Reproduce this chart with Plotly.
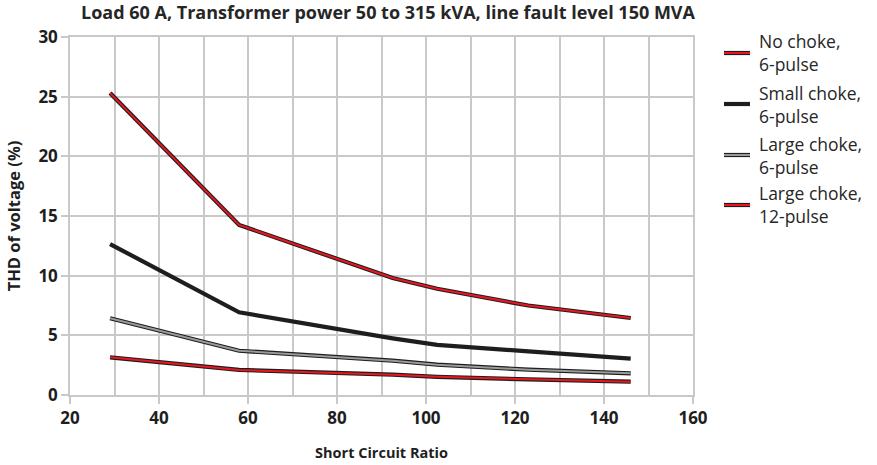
import plotly.graph_objects as go

# ---- data ----
scr = [29, 58, 92.5, 102.5, 123, 146]
no_choke_6p = [25.3, 14.25, 9.8, 8.9, 7.5, 6.45]
small_choke_6p = [12.65, 6.93, 4.75, 4.2, 3.66, 3.05]
large_choke_6p = [6.43, 3.71, 2.88, 2.54, 2.12, 1.82]
large_choke_12p = [3.16, 2.1, 1.7, 1.52, 1.31, 1.12]

series_names = ["No choke,<br>6-pulse", "Small choke,<br>6-pulse",
                "Large choke,<br>6-pulse", "Large choke,<br>12-pulse"]
series_values = [no_choke_6p, small_choke_6p, large_choke_6p, large_choke_12p]

title_text = "Load 60 A, Transformer power 50 to 315 kVA, line fault level 150 MVA"
x_title = "Short Circuit Ratio"
y_title = "THD of voltage (%)"

# ---- styles ----
BLACK = "#1e1e1e"
RED = "#ec1620"
GREY = "#9a9a9a"
GRID = "#c9c9c9"
inner_colors = [RED, None, GREY, RED]

W, H = 877, 465
ML, MR, MT, MB = 70, 184, 37, 70
PW, PH = W - ML - MR, H - MT - MB


def px_x(px):
    return (px - ML) / PW


def px_y(py):
    return (H - MB - py) / PH


fig = go.Figure()
for vals, inner in zip(series_values, inner_colors):
    fig.add_trace(go.Scatter(x=scr, y=vals, mode="lines",
                             line=dict(color=BLACK, width=4.2), showlegend=False,
                             hoverinfo="skip"))
    if inner:
        fig.add_trace(go.Scatter(x=scr, y=vals, mode="lines",
                                 line=dict(color=inner, width=2), showlegend=False,
                                 hoverinfo="skip"))

# manual legend
legend_py = [53, 104, 155, 205]
for name, inner, py in zip(series_names, inner_colors, legend_py):
    fig.add_shape(type="line", xref="paper", yref="paper",
                  x0=px_x(724), x1=px_x(750), y0=px_y(py), y1=px_y(py),
                  line=dict(color=BLACK, width=4.2))
    if inner:
        fig.add_shape(type="line", xref="paper", yref="paper",
                      x0=px_x(724), x1=px_x(750), y0=px_y(py), y1=px_y(py),
                      line=dict(color=inner, width=2))
    fig.add_annotation(xref="paper", yref="paper", x=px_x(757), y=px_y(py),
                       xanchor="left", yanchor="middle", align="left",
                       text=name, showarrow=False,
                       font=dict(family="Open Sans", size=17.5, color="#262626"))

fig.update_layout(
    width=W, height=H,
    margin=dict(l=ML, r=MR, t=MT, b=MB),
    paper_bgcolor="white", plot_bgcolor="white",
    title=dict(text="<b>" + title_text + "</b>", x=388 / W, xanchor="center",
               y=1 - 13 / H, yanchor="middle",
               font=dict(family="Open Sans", size=18, color="#262626")),
    font=dict(family="Open Sans", color="#1e1e1e"),
    showlegend=False,
)
fig.update_xaxes(
    range=[20, 160], dtick=20, tick0=20, automargin=False,
    showgrid=True, gridcolor=GRID, gridwidth=1.5,
    minor=dict(dtick=10, showgrid=True, gridcolor=GRID, gridwidth=1.5),
    ticks="outside", ticklen=7, tickcolor=GRID, tickwidth=1.5,
    showline=True, linecolor=GRID, linewidth=1.5, mirror=True,
    zeroline=False,
    tickfont=dict(family="Open Sans", size=17, color="#1e1e1e"),
    tickprefix="<b>", ticksuffix="</b>",
    title=dict(text="<b>" + x_title + "</b>", standoff=20,
               font=dict(family="Open Sans", size=14.5, color="#1e1e1e")),
)
fig.update_yaxes(
    range=[0, 30], dtick=5, automargin=False,
    showgrid=True, gridcolor=GRID, gridwidth=1.5,
    ticks="outside", ticklen=7, tickcolor=GRID, tickwidth=1.5,
    showline=True, linecolor=GRID, linewidth=1.5, mirror=True,
    zeroline=False,
    tickfont=dict(family="Open Sans", size=17, color="#1e1e1e"),
    tickprefix="<b>", ticksuffix="</b>",
    title=dict(text="<b>" + y_title + "</b>", standoff=14,
               font=dict(family="Open Sans", size=16.5, color="#1e1e1e")),
)

fig.write_html("out.html", config={"displayModeBar": False},
               post_script="document.body.style.margin='0';")
